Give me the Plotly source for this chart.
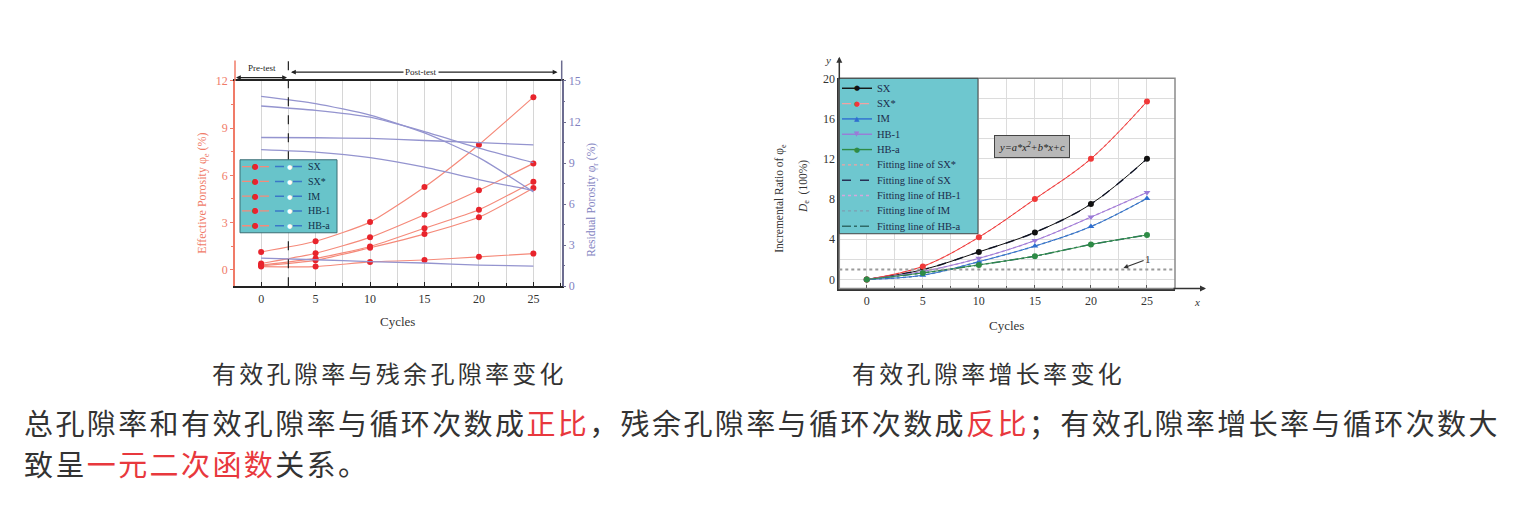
import plotly.graph_objects as go

W, H = 1516, 521
def PX(p): return p / W
def PY(p): return 1 - p / H

SERIF = "Liberation Serif"
CJK = "Noto Sans CJK SC"

# ---------------- data ----------------
cycles = [0, 5, 10, 15, 20, 25]
series_names = ["SX", "SX*", "IM", "HB-1", "HB-a"]

# left chart: effective porosity (%) on left axis
eff_SX  = [1.13, 1.81, 3.03, 5.26, 7.95, 10.97]
eff_SXs = [0.40, 1.05, 2.06, 3.50, 5.05, 6.76]
eff_IM  = [0.30, 0.72, 1.48, 2.64, 3.81, 5.60]
eff_HB1 = [0.25, 0.60, 1.40, 2.27, 3.34, 5.20]
eff_HBa = [0.20, 0.20, 0.50, 0.62, 0.82, 1.03]
effective = [eff_SX, eff_SXs, eff_IM, eff_HB1, eff_HBa]

# left chart: residual porosity (%) on right axis
res_SX  = [13.88, 13.35, 12.50, 11.20, 9.40, 6.90]
res_SXs = [13.17, 12.85, 12.35, 11.30, 10.10, 9.03]
res_IM  = [10.87, 10.85, 10.80, 10.65, 10.50, 10.33]
res_HB1 = [9.98, 9.80, 9.40, 8.70, 7.80, 7.00]
res_HBa = [2.06, 1.94, 1.80, 1.70, 1.55, 1.47]
residual = [res_SX, res_SXs, res_IM, res_HB1, res_HBa]

# right chart: incremental ratio D_e (100%)
D_SX  = [0, 0.97, 2.74, 4.68, 7.50, 12.00]
D_SXs = [0, 1.30, 4.20, 8.00, 12.00, 17.70]
D_IM  = [0, 0.42, 1.77, 3.32, 5.26, 8.06]
D_HB1 = [0, 0.80, 2.10, 3.87, 6.20, 8.65]
D_HBa = [0, 0.65, 1.45, 2.32, 3.48, 4.42]
ratio = [D_SX, D_SXs, D_IM, D_HB1, D_HBa]
fit_names = ["Fitting line of SX*", "Fitting line of SX", "Fitting line of HB-1",
             "Fitting line of IM", "Fitting line of HB-a"]
fit_series = [1, 0, 3, 2, 4]
reference_level = 1

cycle_ticks = [0, 5, 10, 15, 20, 25]
cycle_minor = [2.5, 7.5, 12.5, 17.5, 22.5, 27.5]
eff_ticks = [0, 3, 6, 9, 12]
eff_minor = [1.5, 4.5, 7.5, 10.5]
res_ticks = [0, 3, 6, 9, 12, 15]
res_minor = [1.5, 4.5, 7.5, 10.5, 13.5]
ratio_ticks = [0, 4, 8, 12, 16, 20]
ratio_minor = [2, 6, 10, 14, 18]
stage_split = 2.5

caption_left = "有效孔隙率与残余孔隙率变化"
caption_right = "有效孔隙率增长率变化"

# ---------------- styles ----------------
RED_LINE = "#f58a7a"
RED_MK = "#e8242c"
BLUE_LINE = "#9494cf"
SALMON = "#f07b68"
SLATE = "#8282bf"
TEAL = "#68c4ca"

ratio_colors = ["#111111", "#f03838", "#2f6fd0", "#9b7bd8", "#2e8b46"]
ratio_symbols = ["circle", "circle", "triangle-up", "triangle-down", "circle"]
ratio_glyphs = ["●", "●", "▲", "▼", "●"]
fit_colors = ["#f2a2a2", "#263055", "#d6a6dc", "#7d9fb2", "#2f6b68"]
fit_dash = ["dot", "dash", "dot", "dot", "dashdot"]

fig = go.Figure()

# left chart traces
for name, ys in zip(series_names, residual):
    fig.add_trace(go.Scatter(x=cycles, y=ys, xaxis="x", yaxis="y2", mode="lines", name=name,
                             line=dict(color=BLUE_LINE, width=1.3, shape="spline", smoothing=0.6),
                             showlegend=False))
for name, ys in zip(series_names, effective):
    fig.add_trace(go.Scatter(x=cycles, y=ys, xaxis="x", yaxis="y", mode="lines+markers", name=name,
                             line=dict(color=RED_LINE, width=1.2, shape="spline", smoothing=0.6),
                             marker=dict(color=RED_MK, size=6), showlegend=False))

# right chart traces
for k, fname in enumerate(fit_names):
    ys = ratio[fit_series[k]]
    fig.add_trace(go.Scatter(x=cycles, y=ys, xaxis="x2", yaxis="y3", mode="lines", name=fname,
                             line=dict(color=fit_colors[k], width=1.5, dash=fit_dash[k], shape="spline"),
                             showlegend=False))
for i, name in enumerate(series_names):
    fig.add_trace(go.Scatter(x=cycles, y=ratio[i], xaxis="x2", yaxis="y3", mode="lines+markers", name=name,
                             line=dict(color=ratio_colors[i], width=1, shape="spline"),
                             marker=dict(color=ratio_colors[i], size=6, symbol=ratio_symbols[i]),
                             showlegend=False))

shapes = []
ann = []

def txt(xp, yp, text, size, color, family=SERIF, xanchor="center", yanchor="middle", **kw):
    d = dict(x=PX(xp), y=PY(yp), xref="paper", yref="paper", text=text, showarrow=False,
             xanchor=xanchor, yanchor=yanchor, font=dict(family=family, size=size, color=color))
    d.update(kw)
    ann.append(d)

def hline(x0, x1, yp, color, width=1.2, dash="solid", layer="above"):
    shapes.append(dict(type="line", xref="paper", yref="paper", x0=PX(x0), x1=PX(x1), y0=PY(yp), y1=PY(yp),
                       line=dict(color=color, width=width, dash=dash), layer=layer))

def darrow(x0, x1, yp):
    ann.append(dict(x=PX(x0), y=PY(yp), ax=x1 - x0, ay=0, xref="paper", yref="paper", text="",
                    showarrow=True, arrowhead=2, arrowside="end+start", arrowsize=0.8, arrowwidth=1.2,
                    arrowcolor="#222", xanchor="center", yanchor="middle"))

# ---------- left chart decorations ----------
L0, L1, LT, LB = 235, 561.7, 76, 287
shapes.append(dict(type="line", xref="paper", yref="paper", x0=PX(L0), x1=PX(L0), y0=PY(55), y1=PY(LT),
                   line=dict(color=SALMON, width=1.5)))
shapes.append(dict(type="line", xref="paper", yref="paper", x0=PX(L1), x1=PX(L1), y0=PY(55), y1=PY(LT),
                   line=dict(color="#6c6c90", width=1.5)))
shapes.append(dict(type="line", xref="x", yref="paper", x0=stage_split, x1=stage_split, y0=PY(LB), y1=PY(55),
                   line=dict(color="#222", width=1.2, dash="dash")))
darrow(236, 288.5, 72.5)
txt(262, 63, "Pre-test", 9, "#222")
darrow(291, 559, 67)
txt(421, 67, "Post-test", 9, "#222", bgcolor="white")
txt(203, 192, "Effective Porosity φ<sub>e</sub> (%)", 12, SALMON, textangle=-90)
txt(592, 198, "Residual Porosity φ<sub>r</sub> (%)", 11.5, SLATE, textangle=-90)
txt(397, 323, "Cycles", 13, "#333")

# left custom legend
shapes.append(dict(type="rect", xref="paper", yref="paper", x0=PX(240), x1=PX(337), y0=PY(232), y1=PY(157),
                   fillcolor=TEAL, line=dict(color="#3b6e74", width=1), layer="above"))
for i, name in enumerate(series_names):
    yy = 164 + i * 15.2
    hline(242, 271, yy, RED_LINE, 1.3, "dash")
    hline(275, 302, yy, "#3a78c8", 1.5, "dash")
    txt(255, yy, "●", 8, RED_MK, family="DejaVu Sans")
    txt(289, yy, "●", 6, "white", family="DejaVu Sans")
    txt(306, yy, name, 10, "#12304a", xanchor="left")

# ---------- right chart decorations ----------
R0, R1, RT, RB = 839.3, 1175, 73.3, 289.3
shapes.append(dict(type="rect", xref="x2 domain", yref="y3 domain", x0=0, x1=1, y0=0, y1=1,
                   line=dict(color="#8a8a8a", width=1.5)))
shapes.append(dict(type="line", xref="x2 domain", yref="y3", x0=0, x1=1, y0=reference_level, y1=reference_level,
                   line=dict(color="#9a9a9a", width=2, dash="dot")))
ann.append(dict(x=PX(R0), y=PY(51), xref="paper", yref="paper", ax=0, ay=24, text="", showarrow=True,
                arrowhead=2, arrowsize=0.8, arrowwidth=1.5, arrowcolor="#333"))
ann.append(dict(x=PX(1206), y=PY(RB), xref="paper", yref="paper", ax=-34, ay=0, text="", showarrow=True,
                arrowhead=2, arrowsize=0.8, arrowwidth=1.5, arrowcolor="#333"))
txt(828, 54, "<i>y</i>", 11, "#333")
txt(1197, 303, "<i>x</i>", 11, "#333")
ann.append(dict(x=22.9, y=1.15, xref="x2", yref="y3", ax=25.1, ay=2.05, axref="x2", ayref="y3",
                text="1", showarrow=True, arrowhead=2, arrowsize=0.8, arrowwidth=1.2, arrowcolor="#333",
                font=dict(family=SERIF, size=11, color="#333")))
txt(1032, 143, "<i>y=a*x<sup>2</sup>+b*x+c</i>", 10.5, "#222",
    bgcolor="#b8b8b8", bordercolor="#444", borderwidth=1, borderpad=4)
txt(780, 197, "Incremental Ratio of φ<sub>e</sub>", 11.5, "#333", textangle=-90)
txt(804, 185, "<i>D</i><sub>e</sub>  (100%)", 11.5, "#333", textangle=-90)
txt(1007, 327, "Cycles", 13, "#333")

# right custom legend
shapes.append(dict(type="rect", xref="paper", yref="paper", x0=PX(R0), x1=PX(978), y0=PY(233), y1=PY(RT),
                   fillcolor="#6ec7cf", line=dict(color="#444", width=1), layer="above"))
rows = []
for i, name in enumerate(series_names):
    rows.append((name, ratio_colors[i] if i != 1 else "#f2a2a2", "solid" if i != 1 else "dash",
                 ratio_glyphs[i], ratio_colors[i]))
for k, fname in enumerate(fit_names):
    rows.append((fname, fit_colors[k], fit_dash[k], None, None))
for r, (label, lc, dash, glyph, gc) in enumerate(rows):
    yy = 83.5 + r * 15.75
    hline(842, 872, yy, lc, 1.4, dash)
    if glyph:
        txt(857, yy, glyph, 7, gc, family="DejaVu Sans")
    txt(875, yy, label, 10.5, "#1d2c4c", xanchor="left")

# ---------- captions and body text ----------
CAP_LS = "letter-spacing:3.3px"
txt(389, 375.5, f"<span style='{CAP_LS}'>{caption_left}</span>", 24, "#333", family=CJK)
txt(989, 375.5, f"<span style='{CAP_LS}'>{caption_right}</span>", 24, "#333", family=CJK)
RED_TXT = "#e8383d"
LS = "letter-spacing:2.4px"
line1 = (f"<span style='{LS}'>总孔隙率和有效孔隙率与循环次数成</span>"
         f"<span style='{LS};color:{RED_TXT}'>正比</span>"
         f"<span style='{LS}'>，残余孔隙率与循环次数成</span>"
         f"<span style='{LS};color:{RED_TXT}'>反比</span>"
         f"<span style='{LS}'>；有效孔隙率增长率与循环次数大</span>")
line2 = (f"<span style='{LS}'>致呈</span>"
         f"<span style='{LS};color:{RED_TXT}'>一元二次函数</span>"
         f"<span style='{LS}'>关系。</span>")
txt(22, 426, line1, 29, "#333", family=CJK, xanchor="left")
txt(22, 469, line2, 29, "#333", family=CJK, xanchor="left")

tickf = dict(family=SERIF, size=12, color="#333")
fig.update_layout(
    width=W, height=H, margin=dict(l=0, r=0, t=0, b=0),
    paper_bgcolor="white", plot_bgcolor="white", showlegend=False,
    xaxis=dict(domain=[PX(L0), PX(L1)], range=[-2.4, 27.6], anchor="y",
               tickmode="array", tickvals=cycle_ticks, ticks="inside", ticklen=4, tickcolor="#222",
               showline=True, linecolor="#222", linewidth=2, mirror=True, zeroline=False,
               showgrid=True, gridcolor="#d6d6d6", gridwidth=1,
               minor=dict(tickmode="array", tickvals=cycle_minor, ticks="inside", ticklen=3, tickcolor="#222",
                          showgrid=True, gridcolor="#d6d6d6"),
               tickfont=tickf),
    yaxis=dict(domain=[PY(LB), PY(LT)], range=[-1.05, 12], anchor="x",
               tickmode="array", tickvals=eff_ticks, ticks="outside", ticklen=3, tickcolor=SALMON,
               showline=True, linecolor=SALMON, linewidth=1.5, showgrid=False, zeroline=False,
               minor=dict(tickmode="array", tickvals=eff_minor, ticks="outside", ticklen=2, tickcolor=SALMON),
               tickfont=dict(family=SERIF, size=12, color=SALMON)),
    yaxis2=dict(overlaying="y", side="right", anchor="x", range=[0, 15],
                tickmode="array", tickvals=res_ticks, ticks="outside", ticklen=3, tickcolor="#6c6c90",
                showline=True, linecolor="#6c6c90", linewidth=1.5, showgrid=False, zeroline=False,
                minor=dict(tickmode="array", tickvals=res_minor, ticks="outside", ticklen=2, tickcolor="#6c6c90"),
                tickfont=dict(family=SERIF, size=12, color=SLATE)),
    xaxis2=dict(domain=[PX(R0), PX(R1)], range=[-2.45, 27.5], anchor="y3",
                tickmode="array", tickvals=cycle_ticks, ticks="inside", ticklen=4, tickcolor="#555",
                showline=True, linecolor="#333", linewidth=2, zeroline=False,
                showgrid=True, gridcolor="#dcdcdc",
                minor=dict(tickmode="array", tickvals=cycle_minor, ticks="inside", ticklen=3, tickcolor="#555",
                           showgrid=True, gridcolor="#dcdcdc"),
                tickfont=tickf),
    yaxis3=dict(domain=[PY(RB), PY(RT)], range=[-0.9, 20], anchor="x2",
                tickmode="array", tickvals=ratio_ticks, ticks="", showline=True, linecolor="#333", linewidth=2,
                zeroline=False, showgrid=True, gridcolor="#dcdcdc",
                minor=dict(tickmode="array", tickvals=ratio_minor, showgrid=True, gridcolor="#dcdcdc"),
                tickfont=tickf),
    shapes=shapes, annotations=ann,
)

fig.write_html("out.html")
